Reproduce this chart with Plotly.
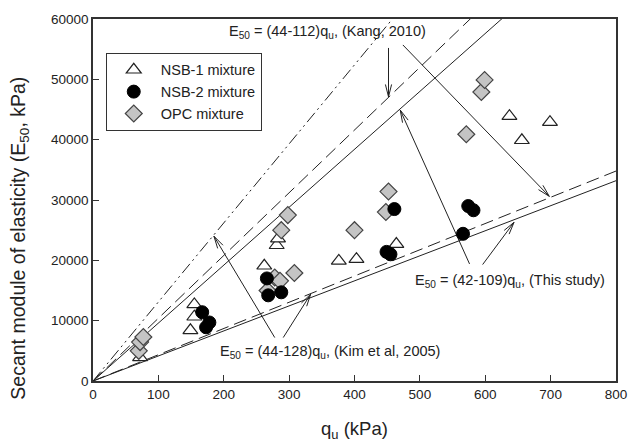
import plotly.graph_objects as go
import numpy as np

# ---------------- data ----------------
nsb1_qu = [72, 149, 155, 155, 262, 281, 283, 376, 403, 464, 637, 656, 699]
nsb1_e = [3900, 8400, 10650, 12700, 19100, 22500, 23600, 19900, 20200, 22700, 43900, 39900, 42900]

nsb2_qu = [167, 173, 178, 266, 268, 288, 449, 455, 461, 566, 574, 582]
nsb2_e = [11400, 8900, 9700, 17000, 14200, 14700, 21400, 21000, 28500, 24400, 29000, 28300]

opc_qu = [70, 72, 77, 267, 278, 286, 288, 298, 308, 400, 448, 452, 571, 594, 599]
opc_e = [5000, 6450, 7300, 15000, 17150, 16600, 25000, 27500, 17900, 25000, 28000, 31400, 40900, 47900, 49900]

# reference lines (slope as drawn)
line_slopes = [131, 104, 96, 43.5, 41.5]
line_dashes = ["12px,4px,2px,4px,2px,4px", "13px,6px", "solid", "13px,6px", "solid"]

# annotation texts
labels = [
    "E<sub>50</sub> = (44-112)q<sub>u</sub>, (Kang, 2010)",
    "E<sub>50</sub> = (42-109)q<sub>u</sub>, (This study)",
    "E<sub>50</sub> = (44-128)q<sub>u</sub>, (Kim et al, 2005)",
]
label_pos = [(358, 57800), (638, 16600), (362, 4800)]

# arrows: (tail_x, tail_y, head_x, head_y)
arrows = [
    (452, 55200, 452, 47100),
    (474, 55700, 698, 30600),
    (576, 19400, 470, 44900),
    (596, 19300, 644, 26300),
    (278, 7200, 185, 24000),
    (291, 7200, 333, 14400),
]

# ---------------- figure ----------------
W, H = 639, 442
ml, mr, mt, mb = 93, 13, 12.5, 60.5
xr = [0, 800]
yr = [0, 60000]
pw = W - ml - mr
ph = H - mt - mb
sx = pw / (xr[1] - xr[0])
sy = ph / (yr[1] - yr[0])

ink = "#222222"
fig = go.Figure()

xs = np.array([0, 800])
for s, d in zip(line_slopes, line_dashes):
    fig.add_trace(go.Scatter(x=xs, y=s * xs, mode="lines",
                             line=dict(color=ink, width=1, dash=d),
                             showlegend=False, hoverinfo="skip"))

# arrows: shafts + open V heads
ax_x, ax_y = [], []
for tx, ty, hx, hy in arrows:
    ax_x += [tx, hx, None]
    ax_y += [ty, hy, None]
    dx = (hx - tx) * sx
    dy = (hy - ty) * sy
    L = np.hypot(dx, dy)
    ux, uy = dx / L, dy / L
    hl, ang = 13, np.deg2rad(14)
    for sgn in (1, -1):
        c, s_ = np.cos(sgn * ang), np.sin(sgn * ang)
        bx = -(ux * c - uy * s_) * hl
        by = -(ux * s_ + uy * c) * hl
        ax_x += [hx, hx + bx / sx, None]
        ax_y += [hy, hy + by / sy, None]
fig.add_trace(go.Scatter(x=ax_x, y=ax_y, mode="lines",
                         line=dict(color=ink, width=1),
                         showlegend=False, hoverinfo="skip"))

fig.add_trace(go.Scatter(x=nsb1_qu, y=nsb1_e, mode="markers", name="NSB-1 mixture",
                         legendrank=1,
                         marker=dict(symbol="triangle-up", size=13, color="white",
                                     line=dict(color=ink, width=1.2))))
fig.add_trace(go.Scatter(x=opc_qu, y=opc_e, mode="markers", name="OPC mixture",
                         legendrank=3,
                         marker=dict(symbol="diamond", size=13, color="#c4c4c4",
                                     line=dict(color="#444444", width=1.2))))
fig.add_trace(go.Scatter(x=nsb2_qu, y=nsb2_e, mode="markers", name="NSB-2 mixture",
                         legendrank=2,
                         marker=dict(symbol="circle", size=13, color="black",
                                     line=dict(color="black", width=1))))

for t, (px_, py_) in zip(labels, label_pos):
    fig.add_annotation(x=px_, y=py_, text=t, showarrow=False,
                       font=dict(size=14.5, color=ink), xanchor="center", yanchor="middle")

fig.add_annotation(xref="paper", yref="paper", x=(18 - ml) / pw, y=(H - mb - 236) / ph,
                   xanchor="center", yanchor="middle",
                   text="Secant module of elasticity (E<sub>50</sub>, kPa)",
                   textangle=-90, showarrow=False, font=dict(size=19.5, color=ink))
fig.add_annotation(xref="paper", yref="paper", x=0.5, y=-(431 - (H - mb)) / ph,
                   xanchor="center", yanchor="middle",
                   text="q<sub>u</sub> (kPa)", showarrow=False,
                   font=dict(size=18.5, color=ink))

axis_common = dict(showline=True, linecolor="#333333", linewidth=1.5, mirror=True,
                   ticks="inside", ticklen=6, tickcolor="#333333", showgrid=False,
                   zeroline=False, tickfont=dict(size=13.5, color=ink))
fig.update_xaxes(range=xr, dtick=100, **axis_common)
fig.update_yaxes(range=yr, dtick=10000, tickformat="d", **axis_common)

fig.update_layout(
    width=W, height=H,
    margin=dict(l=ml, r=mr, t=mt, b=mb, pad=0),
    plot_bgcolor="white", paper_bgcolor="white",
    font=dict(family="Liberation Sans, Arial, sans-serif", color=ink),
    legend=dict(x=(106 - ml) / pw, y=(H - mb - 47) / ph, xanchor="left", yanchor="top",
                bordercolor="#333333", borderwidth=1, bgcolor="white",
                font=dict(size=14.5), traceorder="normal", itemwidth=44,
                tracegroupgap=0),
)

fig.write_html("out.html")
